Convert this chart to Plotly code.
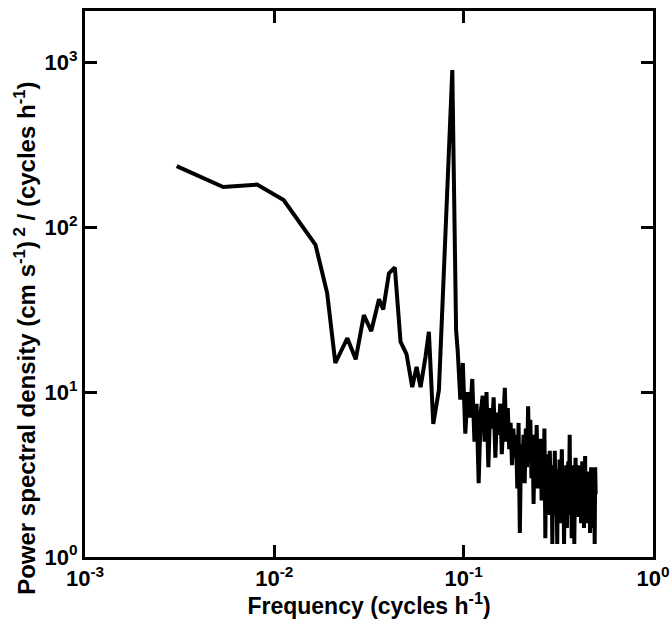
import plotly.graph_objects as go

# Low-frequency part: frequency (cycles/h), PSD
freq_low = [0.00305, 0.00537, 0.00810, 0.0112, 0.0165, 0.0190, 0.0210, 0.0243,
            0.0269, 0.0297, 0.0325, 0.0357, 0.0376, 0.0403, 0.0433, 0.0464,
            0.0499, 0.0535, 0.0564, 0.0592, 0.0629, 0.0655, 0.0691, 0.0740,
            0.0871, 0.0912]
psd_low = [234, 175, 181, 146, 78, 40, 15.0, 21.2,
           15.8, 29.3, 23.4, 36.5, 31.7, 52.4, 57, 20.2,
           17.0, 10.7, 14.2, 10.7, 16.4, 23.2, 6.4, 10.3,
           895, 23.7]

# High-frequency noisy part
freq_high = [0.093, 0.096, 0.099, 0.102, 0.105, 0.108, 0.111, 0.114, 0.117, 0.120,
             0.123, 0.126, 0.129, 0.132, 0.135, 0.138, 0.141, 0.144, 0.147, 0.150,
             0.153, 0.156, 0.159, 0.162, 0.165, 0.168, 0.171, 0.174, 0.177, 0.180,
             0.183, 0.186, 0.189, 0.192, 0.195, 0.198, 0.201, 0.204, 0.207, 0.210,
             0.213, 0.216, 0.219, 0.222, 0.225, 0.228, 0.231, 0.234, 0.237, 0.240,
             0.243, 0.246, 0.249, 0.252, 0.255, 0.258, 0.261, 0.264, 0.267, 0.270,
             0.273, 0.276, 0.279, 0.282, 0.285, 0.288, 0.291, 0.294, 0.297, 0.300,
             0.303, 0.306, 0.309, 0.312, 0.315, 0.318, 0.321, 0.324, 0.327, 0.330,
             0.333, 0.336, 0.339, 0.342, 0.345, 0.348, 0.351, 0.354, 0.357, 0.360,
             0.363, 0.366, 0.369, 0.372, 0.375, 0.378, 0.381, 0.384, 0.387, 0.390,
             0.393, 0.396, 0.399, 0.402, 0.405, 0.408, 0.411, 0.414, 0.417, 0.420,
             0.423, 0.426, 0.429, 0.432, 0.435, 0.438, 0.441, 0.444, 0.447, 0.450,
             0.453, 0.456, 0.459, 0.462, 0.465, 0.468, 0.471, 0.474, 0.477, 0.480,
             0.483, 0.486, 0.489, 0.492, 0.495, 0.498]
psd_high = [17.8, 9.0, 15.0, 5.6, 10.0, 7.0, 12.0, 5.0, 8.5, 2.8,
            7.5, 9.5, 5.0, 10.0, 3.5, 8.0, 6.0, 9.3, 4.0, 7.5,
            5.5, 8.5, 4.2, 7.0, 10.6, 5.0, 8.0, 4.5, 6.5, 3.6,
            6.0, 4.0, 5.5, 2.6, 6.5, 1.4, 4.8, 3.0, 5.5, 2.8,
            6.0, 3.5, 8.2, 4.0, 6.8, 3.0, 5.5, 2.1, 4.8, 3.2,
            6.3, 2.6, 4.5, 3.0, 5.2, 2.2, 4.0, 2.8, 6.0, 1.3,
            4.2, 2.4, 3.8, 1.8, 4.4, 2.5, 3.6, 1.2, 3.2, 2.0,
            4.4, 1.8, 3.0, 1.2, 3.4, 2.2, 3.9, 1.6, 3.0, 4.5,
            2.0, 3.2, 1.2, 2.8, 2.0, 3.6, 1.5, 2.9, 3.8, 2.2,
            5.5, 1.8, 3.4, 1.3, 3.0, 2.2, 3.6, 1.2, 2.8, 4.0,
            1.9, 3.1, 2.0, 3.6, 1.75, 2.9, 2.1, 3.3, 1.6, 2.6,
            3.8, 1.8, 2.9, 1.5, 2.7, 4.1, 1.7, 3.0, 2.0, 3.3,
            1.6, 2.7, 2.0, 3.2, 1.4, 2.6, 3.5, 1.8, 3.2, 2.1,
            3.4, 1.5, 3.0, 1.2, 3.5, 2.4]

x_tickvals = [0.001, 0.01, 0.1, 1]
x_ticktext = ["10<sup>-3</sup>", "10<sup>-2</sup>", "10<sup>-1</sup>", "10<sup>0</sup>"]
y_tickvals = [1, 10, 100, 1000]
y_ticktext = ["10<sup>0</sup>", "10<sup>1</sup>", "10<sup>2</sup>", "10<sup>3</sup>"]

x_title = "Frequency (cycles h<sup>-1</sup>)"
y_title = "Power spectral density (cm s<sup>-1</sup>)<sup> 2</sup> / (cycles h<sup>-1</sup>)"

fig = go.Figure()
fig.add_trace(go.Scatter(
    x=freq_low + freq_high, y=psd_low + psd_high,
    mode="lines", line=dict(color="black", width=4), showlegend=False,
))

font_family = "Liberation Sans, Arial, sans-serif"
axis_common = dict(
    showline=True, linecolor="black", linewidth=3, mirror="ticks",
    ticks="inside", ticklen=12, tickwidth=3, tickcolor="black",
    showgrid=False, zeroline=False,
    tickfont=dict(family=font_family, size=22, color="black", weight="bold"),
)

fig.update_xaxes(type="log", range=[-3, 0], tickvals=x_tickvals, ticktext=x_ticktext,
                 title=dict(text=x_title,
                            font=dict(family=font_family, size=23, color="black", weight="bold"),
                            standoff=8),
                 **axis_common)
fig.update_yaxes(type="log", range=[0, 3.31], tickvals=y_tickvals, ticktext=y_ticktext,
                 **axis_common)

fig.add_annotation(
    text=y_title, textangle=-90, showarrow=False,
    xref="paper", yref="paper", x=-0.107, y=0.40,
    xanchor="center", yanchor="middle",
    font=dict(family=font_family, size=24, color="black", weight="bold"),
)

fig.update_layout(
    width=670, height=619,
    margin=dict(l=85, r=17, t=11, b=62, autoexpand=False),
    paper_bgcolor="white", plot_bgcolor="white",
)

fig.write_html("out.html")
